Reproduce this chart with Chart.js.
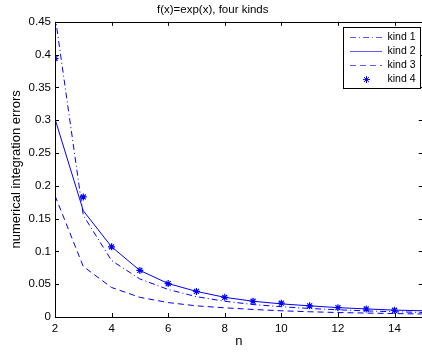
<!DOCTYPE html>
<html>
<head>
<meta charset="utf-8">
<script src="https://cdn.jsdelivr.net/npm/chart.js@4"></script>
<style>
  html, body { margin: 0; padding: 0; background: #fff; overflow: hidden; }
  #wrap { width: 428px; height: 352px; }
</style>
</head>
<body>
<div id="wrap"><canvas id="c"></canvas></div>
<script>
// values
var nValues = [2, 3, 4, 5, 6, 7, 8, 9, 10, 11, 12, 13, 14, 15];
var kind1 = [0.46, 0.155, 0.086, 0.058, 0.042, 0.031, 0.024, 0.019, 0.0157, 0.013, 0.011, 0.0093, 0.008, 0.007];
var kind2 = [0.302, 0.162, 0.107, 0.071, 0.051, 0.039, 0.030, 0.024, 0.020, 0.017, 0.0143, 0.0123, 0.0105, 0.0095];
var kind3 = [0.185, 0.077, 0.045, 0.030, 0.022, 0.017, 0.014, 0.0115, 0.0095, 0.008, 0.0068, 0.006, 0.0052, 0.0046];
var kind4 = [0.394, 0.183, 0.107, 0.071, 0.051, 0.039, 0.030, 0.024, 0.021, 0.017, 0.0142, 0.0122, 0.0103];
var xTicks = [2, 4, 6, 8, 10, 12, 14];
var yTicks = [0, 0.05, 0.1, 0.15, 0.2, 0.25, 0.3, 0.35, 0.4, 0.45];

var BLUE = "#0000ff";
var FONT = "'Liberation Sans', Arial, Helvetica, sans-serif";

function pts(ys) {
    return ys.map(function (y, i) { return {x: nValues[i], y: y}; });
}

// MATLAB-like box with inward ticks plus the legend
var matlabFrame = {
    id: "matlabFrame",
    afterDraw: function (chart) {
        var ctx = chart.ctx, a = chart.chartArea;
        var xs = chart.scales.x, ys = chart.scales.y;
        ctx.save();
        ctx.strokeStyle = "#000";
        ctx.lineWidth = 1;
        ctx.beginPath();
        ctx.rect(Math.round(a.left) + 0.5, Math.round(a.top) + 0.5,
                 Math.round(a.right - a.left), Math.round(a.bottom - a.top));
        xTicks.forEach(function (v) {
            var px = Math.round(xs.getPixelForValue(v)) + 0.5;
            ctx.moveTo(px, a.bottom); ctx.lineTo(px, a.bottom - 4);
            ctx.moveTo(px, a.top); ctx.lineTo(px, a.top + 4);
        });
        yTicks.forEach(function (v) {
            var py = Math.round(ys.getPixelForValue(v)) + 0.5;
            ctx.moveTo(a.left, py); ctx.lineTo(a.left + 4, py);
            ctx.moveTo(a.right, py); ctx.lineTo(a.right - 4, py);
        });
        ctx.stroke();

        // legend
        var bx = 343.5, by = 27.5, bw = 77, bh = 61;
        ctx.fillStyle = "#fff";
        ctx.fillRect(bx, by, bw, bh);
        ctx.strokeRect(bx, by, bw, bh);
        ctx.font = "10.5px " + FONT;
        ctx.textBaseline = "middle";
        chart.data.datasets.forEach(function (ds, i) {
            var y = 37 + i * 14.2;
            ctx.fillStyle = "#000";
            ctx.fillText(ds.label, 387.5, y);
            ctx.strokeStyle = "#5a5aff";
            ctx.fillStyle = BLUE;
            if (ds.showLine !== false) {
                ctx.setLineDash(ds.borderDash || []);
                ctx.beginPath();
                ctx.moveTo(350, Math.round(y) + 0.5);
                ctx.lineTo(382, Math.round(y) + 0.5);
                ctx.stroke();
                ctx.setLineDash([]);
            } else {
                ctx.strokeStyle = BLUE;
                Chart.helpers.drawPoint(ctx, {
                    pointStyle: "star", radius: ds.pointRadius, borderWidth: 1.2
                }, 366.5, y);
            }
        });
        ctx.restore();
    }
};

new Chart(document.getElementById("c"), {
    type: "line",
    data: {
        datasets: [
            {label: "kind 1", data: pts(kind1), borderColor: BLUE, borderWidth: 1,
             borderDash: [6, 3, 1, 3], pointRadius: 0, tension: 0},
            {label: "kind 2", data: pts(kind2), borderColor: BLUE, borderWidth: 1,
             pointRadius: 0, tension: 0},
            {label: "kind 3", data: pts(kind3), borderColor: BLUE, borderWidth: 1,
             borderDash: [6, 4], pointRadius: 0, tension: 0},
            {label: "kind 4", data: pts(kind4), borderColor: BLUE, backgroundColor: BLUE,
             showLine: false, pointStyle: "star", pointRadius: 3.5, pointBorderWidth: 1.2}
        ]
    },
    options: {
        responsive: true,
        maintainAspectRatio: false,
        animation: false,
        layout: {padding: {right: 2.5, left: 0, top: 0, bottom: 0}},
        plugins: {
            legend: {display: false},
            tooltip: {enabled: false},
            title: {
                display: true,
                text: "f(x)=exp(x), four kinds",
                color: "#000",
                font: {family: FONT, size: 11.5, weight: "normal"},
                padding: {top: 3, bottom: 5}
            }
        },
        scales: {
            x: {
                type: "linear",
                min: 2, max: 15,
                afterBuildTicks: function (s) {
                    s.ticks = xTicks.map(function (v) { return {value: v}; });
                },
                afterFit: function (s) { s.height = 35; },
                grid: {display: false, drawTicks: false},
                border: {display: false},
                ticks: {color: "#000", padding: 5, maxRotation: 0,
                        font: {family: FONT, size: 11.5}},
                title: {display: true, text: "n", color: "#000",
                        font: {family: FONT, size: 13}, padding: {top: 0, bottom: 2.5}}
            },
            y: {
                type: "linear",
                min: 0, max: 0.45,
                afterBuildTicks: function (s) {
                    s.ticks = yTicks.map(function (v) { return {value: v}; });
                },
                afterFit: function (s) { s.width = 55; },
                grid: {display: false, drawTicks: false},
                border: {display: false},
                ticks: {color: "#000", padding: 4,
                        font: {family: FONT, size: 11.5},
                        callback: function (v) { return String(Math.round(v * 100) / 100); }},
                title: {display: true, text: "numerical integration errors", color: "#000",
                        font: {family: FONT, size: 13}, padding: {top: 9, bottom: 0}}
            }
        }
    },
    plugins: [matlabFrame]
});
</script>
</body>
</html>
